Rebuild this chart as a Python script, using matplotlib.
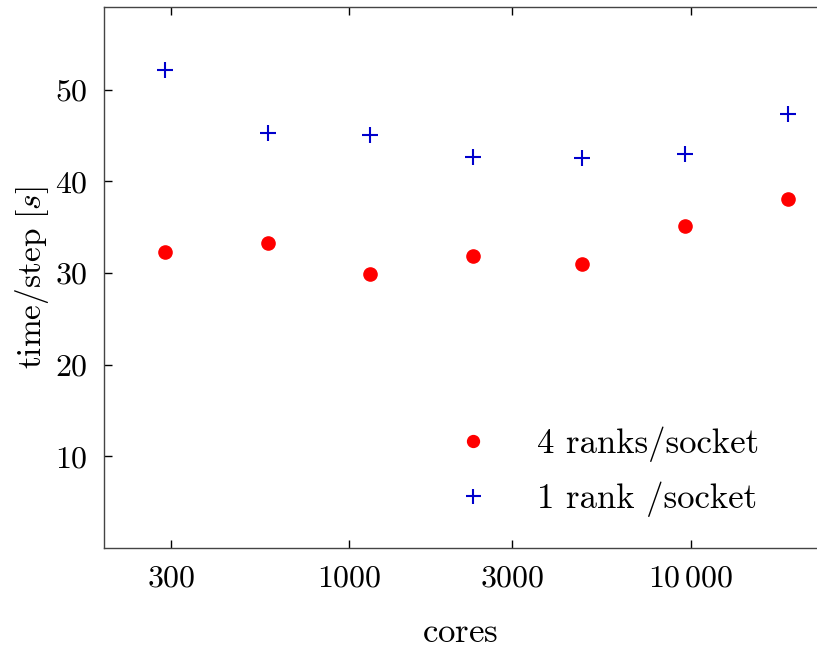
import matplotlib
matplotlib.use('Agg')
import matplotlib.pyplot as plt
import matplotlib.ticker as mticker

plt.rcParams['mathtext.fontset'] = 'cm'
plt.rcParams['font.family'] = 'serif'
plt.rcParams['font.serif'] = ['cmr10']
plt.rcParams['axes.formatter.use_mathtext'] = True

cores = [288, 576, 1152, 2304, 4800, 9600, 19200]
t_4ranks = [32.3, 33.3, 29.9, 31.9, 31.0, 35.1, 38.1]
t_1rank = [52.1, 45.3, 45.1, 42.6, 42.5, 43.0, 47.3]

xticks = [300, 1000, 3000, 10000]
xticklabels = [r'$300$', r'$1000$', r'$3000$', r'$10\,000$']
yticks = [10, 20, 30, 40, 50]

fig = plt.figure(figsize=(8.17, 6.5), dpi=100)
ax = fig.add_axes([0.1273, 0.157, 0.8727, 0.832])

ax.plot(cores, t_4ranks, 'o', color='red', markersize=9.5, label='4 ranks/socket')
ax.plot(cores, t_1rank, '+', color='#0000cc', markersize=12, markeredgewidth=1.5,
        label='1 rank /socket')

ax.set_xscale('log')
ax.set_xlim(191, 23400)
ax.set_ylim(0, 59)
ax.xaxis.set_major_locator(mticker.FixedLocator(xticks))
ax.xaxis.set_minor_locator(mticker.NullLocator())
ax.set_xticklabels(xticklabels)
ax.set_yticks(yticks)
ax.set_yticklabels([r'$%d$' % v for v in yticks])

ax.tick_params(direction='in', top=True, right=False, length=6, width=1,
               labelsize=23, pad=12)
ax.spines['right'].set_visible(False)
for s in ['left', 'top', 'bottom']:
    ax.spines[s].set_color('#444444')
    ax.spines[s].set_linewidth(1)

ax.set_xlabel(r'$\mathrm{cores}$', fontsize=25, labelpad=18)
ax.set_ylabel(r'$\mathrm{time/step}\ [s]$', fontsize=24, labelpad=3)

ax.legend(loc='lower right', frameon=False, fontsize=25, handletextpad=0.85,
          labelspacing=0.55, markerscale=0.9, bbox_to_anchor=(0.963, 0.0))

fig.savefig('out.png', dpi=100)
